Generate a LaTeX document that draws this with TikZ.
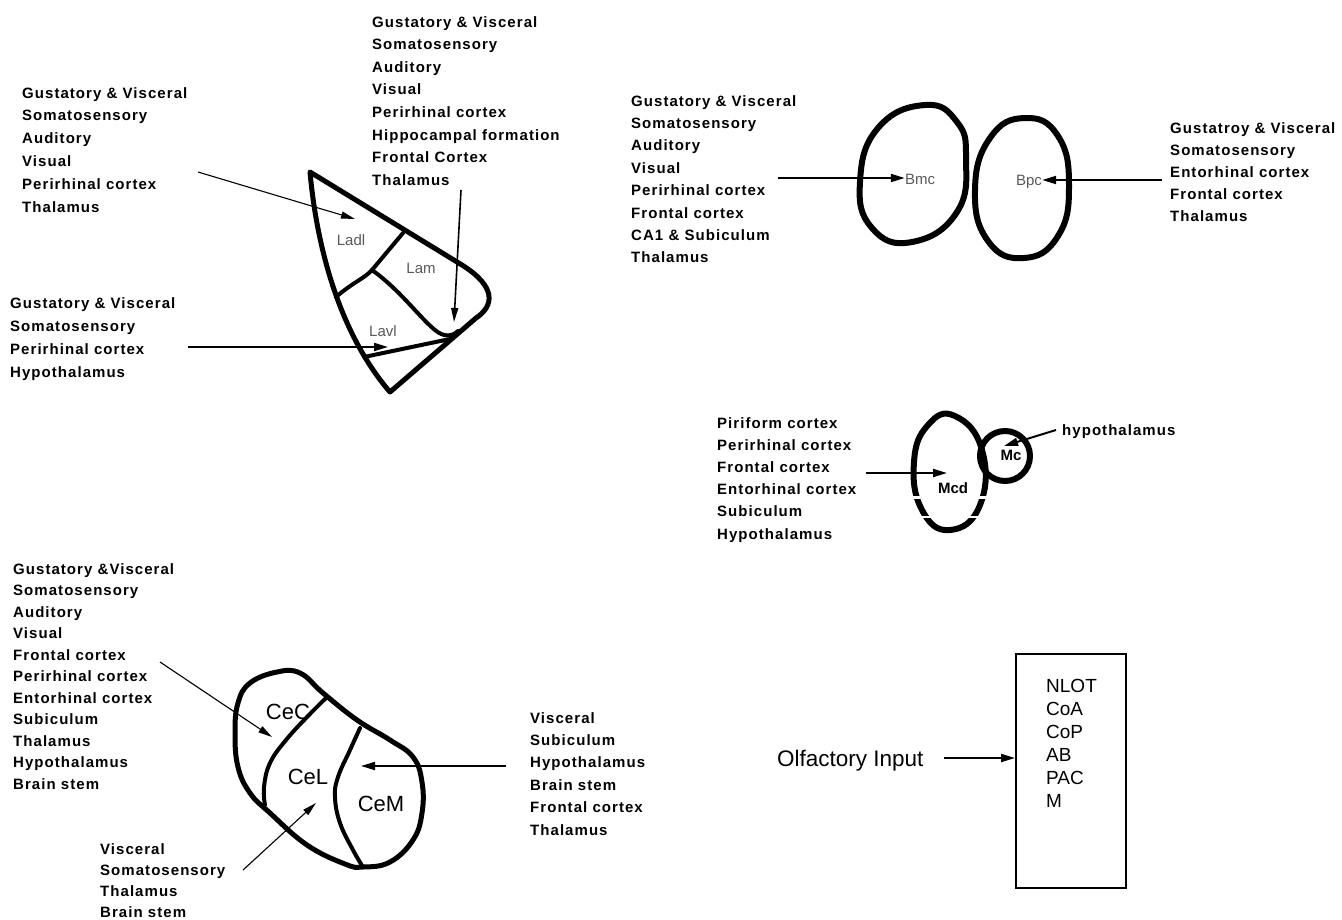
\documentclass[tikz,border=0pt]{standalone}
\usepackage{fontspec}
\setmainfont{Liberation Sans}
\newfontfamily\listfont[LetterSpace=7]{Liberation Sans}
\usetikzlibrary{arrows.meta}

\begin{document}
\begin{tikzpicture}[x=1pt,y=-1pt,
  outline/.style={line width=5pt, line join=round, line cap=round},
  divider/.style={line width=4pt, line cap=round},
  feed/.style={line width=2pt, -{Triangle[length=14pt,width=8pt]}},
  thinfeed/.style={line width=1.1pt, -{Triangle[length=14pt,width=7pt]}},
  srclist/.style={anchor=north west, inner sep=0pt, align=left,
    font=\listfont\bfseries\fontsize{15}{#1}\selectfont},
  region/.style={inner sep=0pt, font=\fontsize{15}{17}\selectfont, text=black!65},
  bigname/.style={inner sep=0pt, anchor=base, font=\fontsize{22}{26}\selectfont},
]
\useasboundingbox (0,0) rectangle (1342,919);

% ---------------- lateral nucleus ----------------
\coordinate (apex) at (310,172);
\coordinate (tip) at (390,392);
\draw[outline] (apex) -- (462,265) .. controls (497,287) and (494,306) .. (476,318)
  -- (tip) .. controls (345,340) and (318,260) .. (apex) -- cycle;
\draw[divider] (336,297) .. controls (352,283) and (365,278) .. (372,270) -- (403,233);
\draw[divider] (372,270) .. controls (400,290) and (420,318) .. (435,330)
  .. controls (443,337) and (452,337) .. (458,331);
\draw[divider] (364,357) -- (450,339);
\node[region] (ladl) at (351,240) {Ladl};
\node[region] (lam) at (421,268) {Lam};
\node[region] (lavl) at (383,331) {Lavl};

\node[srclist=22.8] (latA) at (22,87) {Gustatory \& Visceral\\Somatosensory\\Auditory\\Visual\\Perirhinal cortex\\Thalamus};
\node[srclist=22.6] (latB) at (372,16) {Gustatory \& Visceral\\Somatosensory\\Auditory\\Visual\\Perirhinal cortex\\Hippocampal formation\\Frontal Cortex\\Thalamus};
\node[srclist=23.3] (latC) at (10,297) {Gustatory \& Visceral\\Somatosensory\\Perirhinal cortex\\Hypothalamus};

\coordinate (latAout) at (198,172);
\coordinate (ladlin) at (355,219);
\coordinate (latBout) at (461,190);
\coordinate (lamin) at (454,322);
\coordinate (latCout) at (188,347);
\coordinate (lavlin) at (388,347);
\draw[thinfeed] (latAout) -- (ladlin);
\draw[thinfeed, line width=1.6pt] (latBout) -- (lamin);
\draw[feed] (latCout) -- (lavlin);

% ---------------- basal nucleus ----------------
\draw[outline, line width=6pt] plot[smooth cycle, tension=0.8] coordinates
  {(925,105) (957,122) (966,158) (957,212) (912,242) (872,228) (860,182) (878,128)};
\draw[outline, line width=6pt] plot[smooth cycle, tension=0.8] coordinates
  {(1025,118) (1058,136) (1069,186) (1058,236) (1024,258) (988,241) (975,190) (990,138)};
\node[region] (bmc) at (920,179) {Bmc};
\node[region] (bpc) at (1029,182) {Bpc};

\node[srclist=22.4] (basD) at (631,95) {Gustatory \& Visceral\\Somatosensory\\Auditory\\Visual\\Perirhinal cortex\\Frontal cortex\\CA1 \& Subiculum\\Thalamus};
\node[srclist=22] (basE) at (1170,122) {Gustatroy \& Visceral\\Somatosensory\\Entorhinal cortex\\Frontal cortex\\Thalamus};
\coordinate (basDout) at (778,178);
\coordinate (basEout) at (1162,180);
\draw[feed] (basDout) -- (bmc.west |- basDout);
\draw[feed] (basEout) -- (bpc.east |- basEout);

% ---------------- medial nucleus ----------------
\draw[outline, line width=6pt] plot[smooth cycle, tension=0.8] coordinates
  {(955,416) (982,450) (980,505) (950,530) (922,510) (914,462) (928,425)};
\draw[white, line width=3pt] (905,497) -- (992,497);
\draw[white, line width=2.5pt] (905,517) -- (992,517);
\node[srclist=22.2] (medF) at (717,417) {Piriform cortex\\Perirhinal cortex\\Frontal cortex\\Entorhinal cortex\\Subiculum\\Hypothalamus};
\node[anchor=west, inner sep=0pt, font=\listfont\bfseries\fontsize{15}{17}\selectfont] (hypo) at (1062,432) {hypothalamus};
\coordinate (medFout) at (866,473);
\coordinate (mcdin) at (947,473);
\draw[feed] (medFout) -- (mcdin);
\node[inner sep=0pt, font=\bfseries\fontsize{15}{17}\selectfont] (mcd) at (953,488) {Mcd};
\coordinate (hypoout) at (1056,430);
\coordinate (mcin) at (1004,446);
\draw[feed] (hypoout) -- (mcin);
\draw[outline, line width=6pt] (1005,456) circle[radius=25];
\node[inner sep=0pt, font=\bfseries\fontsize{15}{17}\selectfont] (mc) at (1011,455) {Mc};

% ---------------- central nucleus ----------------
\draw[outline] plot[smooth cycle, tension=0.7] coordinates
  {(250,683) (277,672) (300,673) (323,693) (357,720) (390,740) (413,757) (422,782)
   (422,813) (413,840) (390,862) (363,867) (345,864) (307,845) (270,813) (250,793)
   (238,767) (235,733) (238,703)};
\draw[divider] plot[smooth, tension=0.7] coordinates
  {(327,697) (308,716) (286,740) (270,763) (264,787) (265,805)};
\draw[divider] plot[smooth, tension=0.7] coordinates
  {(360,728) (350,750) (338,777) (335,797) (340,823) (353,850) (363,867)};
\node[bigname] (cec) at (288,719) {CeC};
\node[bigname] (cel) at (308,784) {CeL};
\node[bigname] (cem) at (381,811) {CeM};

\node[srclist=21.5] (cenG) at (13,563) {Gustatory \&Visceral\\Somatosensory\\Auditory\\Visual\\Frontal cortex\\Perirhinal cortex\\Entorhinal cortex\\Subiculum\\Thalamus\\Hypothalamus\\Brain stem};
\node[srclist=21] (cenH) at (100,843) {Visceral\\Somatosensory\\Thalamus\\Brain stem};
\node[srclist=22.4] (cenI) at (530,712) {Visceral\\Subiculum\\Hypothalamus\\Brain stem\\Frontal cortex\\Thalamus};
\coordinate (cenGout) at (160,662);
\coordinate (cecin) at (272,737);
\coordinate (cenHout) at (243,870);
\coordinate (celin) at (316,803);
\coordinate (cenIout) at (506,766);
\coordinate (cemin) at (361,766);
\draw[thinfeed] (cenGout) -- (cecin);
\draw[thinfeed] (cenHout) -- (celin);
\draw[feed] (cenIout) -- (cemin);

% ---------------- olfactory input ----------------
\node[anchor=base west, inner sep=0pt, font=\fontsize{22.5}{26}\selectfont] (olf) at (777,766) {Olfactory Input};
\node[draw, line width=2pt, minimum width=110pt, minimum height=234pt, anchor=north west, inner sep=0pt] (box) at (1015,653) {};
\node[anchor=north west, inner sep=0pt, align=left, font=\fontsize{19}{23}\selectfont] (olfnuc) at (1046,679) {NLOT\\CoA\\CoP\\AB\\PAC\\M};
\coordinate (olfout) at (944,758);
\draw[feed] (olfout) -- (box.west |- olfout);
\end{tikzpicture}
\end{document}
